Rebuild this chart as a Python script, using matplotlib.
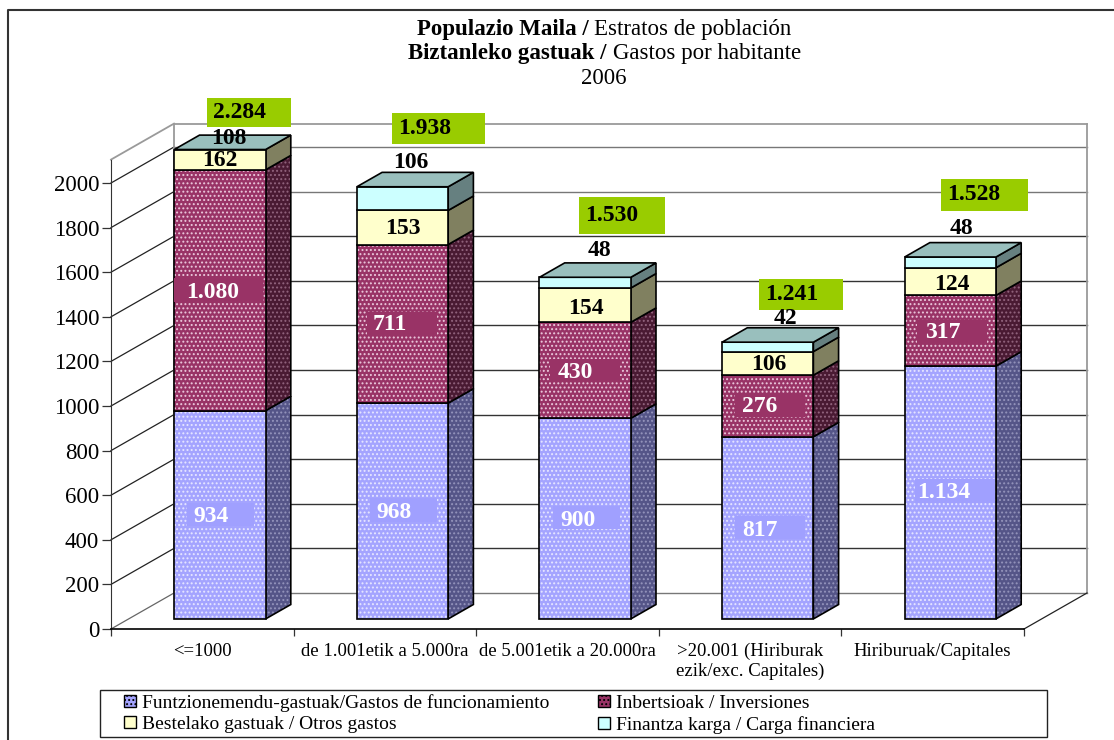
import matplotlib
matplotlib.use("Agg")
import matplotlib.pyplot as plt
from matplotlib.lines import Line2D
from matplotlib.patches import Patch, Polygon, Rectangle
from matplotlib.transforms import Affine2D

categories = ["<=1000", "de 1.001etik a 5.000ra", "de 5.001etik a 20.000ra",
              ">20.001 (Hiriburak\nezik/exc. Capitales)", "Hiriburuak/Capitales"]
funcionamiento = [934, 968, 900, 817, 1134]
inversiones = [1080, 711, 430, 276, 317]
otros = [162, 153, 154, 106, 124]
carga = [108, 106, 48, 42, 48]
totales = ["2.284", "1.938", "1.530", "1.241", "1.528"]
yticks = [0, 200, 400, 600, 800, 1000, 1200, 1400, 1600, 1800, 2000]
serie_labels = ["Funtzionemendu-gastuak/Gastos de funcionamiento", "Inbertsioak / Inversiones",
                "Bestelako gastuak / Otros gastos", "Finantza karga / Carga financiera"]

W, H = 1114, 740
plt.rcParams["font.family"] = ["Liberation Serif", "DejaVu Serif"]
plt.rcParams["hatch.linewidth"] = 0.9

fig = plt.figure(figsize=(W / 100, H / 100), dpi=100)
# frente del grafico: x 111-1024, y 629 (0) - 160 (2105)
ax = fig.add_axes([111 / W, 1 - 629 / H, 913 / W, 469.4 / H])
ax.set_xlim(0, 5)
ax.set_ylim(0, 2105)
ax.patch.set_visible(False)
tr = Affine2D().scale(1, -1).translate(0, H)  # pixeles de la imagen

DX = 63 / 182.6
DY = 36 / 0.223
D_FRONT = 0.28
D_BACK = 0.68
YMAX = 2105


def proj(x, v, d):
    return (x + DX * d, v + DY * d)


def poly(pts, face, dots=None, z=3):
    if dots:
        ax.add_patch(Polygon(pts, closed=True, facecolor=face, edgecolor=dots, hatch="....",
                             lw=0, zorder=z, clip_on=False))
    else:
        ax.add_patch(Polygon(pts, closed=True, facecolor=face, edgecolor="none", zorder=z, clip_on=False))
    ax.add_patch(Polygon(pts, closed=True, fill=False, edgecolor="black", lw=1.2, zorder=z, clip_on=False))


# paredes y rejilla
for v in yticks:
    a = proj(0, v, 0)
    b = proj(0, v, 1)
    c = proj(5, v, 1)
    col = "#666666" if v == 0 else "#222222"
    ax.plot([a[0], b[0]], [a[1], b[1]], color=col, lw=0.9, zorder=1, clip_on=False)
    ax.plot([b[0], c[0]], [b[1], c[1]], color="#777777" if v in (0, 2000, 1800) else "#333333",
            lw=1.0, zorder=1, clip_on=False)
wall_col = "#9a9a9a"
for p, q in [(proj(0, YMAX, 0), proj(0, YMAX, 1)), (proj(0, YMAX, 1), proj(5, YMAX, 1)),
             (proj(0, 0, 1), proj(0, YMAX, 1)), (proj(5, 0, 1), proj(5, YMAX, 1))]:
    ax.plot([p[0], q[0]], [p[1], q[1]], color=wall_col, lw=1.3, zorder=1, clip_on=False)
a = proj(5, 0, 0)
b = proj(5, 0, 1)
ax.plot([a[0], b[0]], [a[1], b[1]], color="#222222", lw=0.9, zorder=1, clip_on=False)

# barras apiladas
series = [funcionamiento, inversiones, otros, carga]
front_cols = ["#A4A4FF", "#993366", "#FFFFCC", "#CCFFFF"]
dot_cols = ["#E6E6FF", "#EBC8DC", None, None]
side_cols = ["#555588", "#4A1A33", "#808060", "#668080"]
side_dots = ["#9494BC", "#92647E", None, None]
top_col = "#99BFBD"
bar_w = 0.5

for i in range(len(categories)):
    left = i + 0.25
    right = left + bar_w
    base = 0
    for s in range(len(series)):
        top = min(base + series[s][i], YMAX)
        if top > base:
            poly([proj(right, base, D_FRONT), proj(right, base, D_BACK),
                  proj(right, top, D_BACK), proj(right, top, D_FRONT)], side_cols[s], side_dots[s], z=3 + i)
            poly([proj(left, base, D_FRONT), proj(right, base, D_FRONT),
                  proj(right, top, D_FRONT), proj(left, top, D_FRONT)], front_cols[s], dot_cols[s], z=3 + i)
        base = top
    poly([proj(left, base, D_FRONT), proj(right, base, D_FRONT),
          proj(right, base, D_BACK), proj(left, base, D_BACK)], top_col, z=3 + i)

# ejes
ax.spines["top"].set_visible(False)
ax.spines["right"].set_visible(False)
ax.spines["left"].set_color("#333333")
ax.spines["left"].set_zorder(2)
ax.spines["bottom"].set_color("black")
ax.spines["bottom"].set_linewidth(1.2)
ax.set_yticks(yticks)
ax.tick_params(axis="y", length=6.5, width=0.9, color="#333333", labelsize=16.5, pad=2)
ax.set_xticks(range(6))
ax.set_xticklabels([])
ax.tick_params(axis="x", which="major", length=5, width=0.9, color="#333333")
ax.set_xticks([i + 0.5 for i in range(5)], minor=True)
ax.set_xticklabels(categories, minor=True, fontsize=13.5, linespacing=1.2, va="top")
ax.tick_params(axis="x", which="minor", length=0, pad=10)

# etiquetas de segmento (x, y en pixeles)
func_x = [193, 376, 560, 742, 917]
func_y = [515, 510, 518, 528, 491]
func_box = [(187, 503, 254, 526), (370, 498, 437, 522), (553, 506, 620, 529),
            (735, 516, 805, 539), (915, 479, 995, 503)]
func_txt = ["934", "968", "900", "817", "1.134"]
inv_x = [186, 373, 558, 742, 925]
inv_y = [290, 323, 370, 405, 331]
inv_box = [(174, 278, 263, 302), (367, 312, 437, 335), (550, 359, 620, 382),
           (735, 394, 805, 417), (917, 320, 987, 343)]
inv_txt = ["1.080", "711", "430", "276", "317"]
otros_x = [220, 403, 586, 769, 952]
otros_y = [159, 226, 306, 363, 282]
carga_x = [229, 411, 599, 785, 961]
carga_y = [136, 161, 248, 317, 226]
total_box = [(207, 98, 291, 127), (392, 113, 485, 144), (579, 197, 665, 234),
             (759, 279, 843, 310), (941, 179, 1028, 211)]
LAB = 17
YOFF = 2

for i in range(5):
    for box, col in [(func_box[i], "#A0A0FF"), (inv_box[i], "#993366"), (total_box[i], "#99CC00")]:
        ax.add_patch(Rectangle((box[0], box[1]), box[2] - box[0], box[3] - box[1], transform=tr,
                               facecolor=col, edgecolor="none", zorder=20, clip_on=False))
    ax.text(func_x[i], func_y[i] + YOFF, func_txt[i], transform=tr, color="white", fontsize=LAB, fontweight="bold",
            ha="left", va="center", zorder=21)
    ax.text(inv_x[i], inv_y[i] + YOFF, inv_txt[i], transform=tr, color="white", fontsize=LAB, fontweight="bold",
            ha="left", va="center", zorder=21)
    ax.text(otros_x[i], otros_y[i] + YOFF, str(otros[i]), transform=tr, color="black", fontsize=LAB, fontweight="bold",
            ha="center", va="center", zorder=21)
    ax.text(carga_x[i], carga_y[i] + YOFF, str(carga[i]), transform=tr, color="black", fontsize=LAB, fontweight="bold",
            ha="center", va="center", zorder=21)
    ax.text(total_box[i][0] + 6, (total_box[i][1] + total_box[i][3]) / 2, totales[i], transform=tr,
            color="black", fontsize=LAB, fontweight="bold", ha="left", va="center", zorder=21)

# titulo
ax.text(589, 30, "Populazio Maila /", transform=tr, fontsize=16.5, fontweight="bold", ha="right", va="center")
ax.text(594, 30, "Estratos de población", transform=tr, fontsize=16.5, ha="left", va="center")
ax.text(607, 54, "Biztanleko gastuak /", transform=tr, fontsize=16.5, fontweight="bold", ha="right", va="center")
ax.text(613, 54, "Gastos por habitante", transform=tr, fontsize=16.5, ha="left", va="center")
ax.text(604, 79, "2006", transform=tr, fontsize=16.5, ha="center", va="center")

# leyenda
handles = [Patch(facecolor=front_cols[0], edgecolor="black", hatch="...."),
           Patch(facecolor=front_cols[2], edgecolor="black"),
           Patch(facecolor=front_cols[1], edgecolor="black", hatch="...."),
           Patch(facecolor=front_cols[3], edgecolor="black")]
leg_labels = [serie_labels[0], serie_labels[2], serie_labels[1], serie_labels[3]]
ax.add_patch(Rectangle((100, 690), 947, 47, transform=tr, facecolor="white", edgecolor="#222222",
                       lw=1.0, zorder=30, clip_on=False))
leg = ax.legend(handles, leg_labels, ncol=2, loc="upper left", bbox_to_anchor=(124, 694),
                bbox_transform=tr, frameon=False, fontsize=14, handlelength=0.6, handleheight=0.6,
                handletextpad=0.3, columnspacing=2.55, labelspacing=0.2, borderpad=0, borderaxespad=0)
leg.set_zorder(31)

# marco exterior
fig.add_artist(Line2D([7.5, 7.5, W], [H, 10, 10], transform=tr, color="#333333", lw=1.5))

fig.savefig("out.png", dpi=100)
